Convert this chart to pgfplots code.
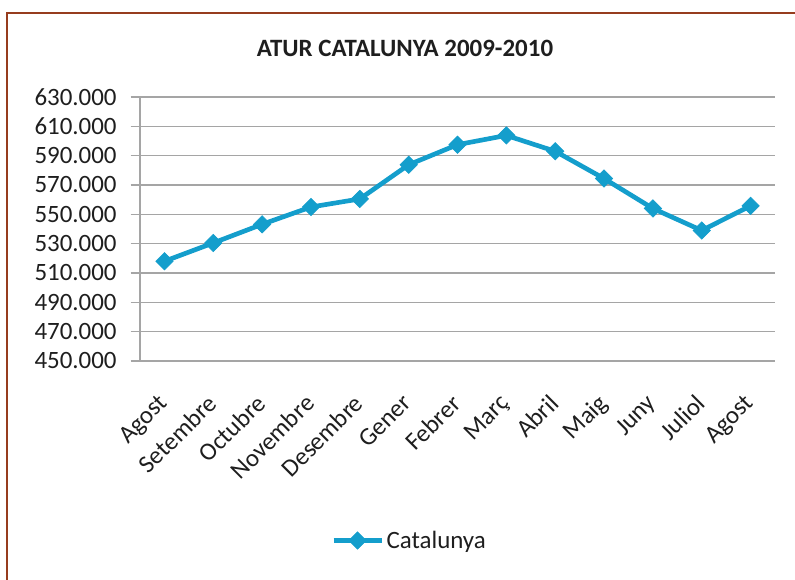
\documentclass[border=0pt]{standalone}
\usepackage{pgfplots}
\pgfplotsset{compat=1.18}
\usepackage{fontspec}
\setmainfont{Carlito}
\definecolor{linec}{RGB}{20,158,204}
\definecolor{gridc}{RGB}{165,165,165}
\definecolor{framec}{RGB}{150,60,30}
\definecolor{txt}{RGB}{30,30,30}
\begin{document}
\begin{tikzpicture}
\path[use as bounding box] (0,0) rectangle (596.25pt,434.25pt);
\draw[framec,line width=1.6pt] (5.25pt,-2pt) -- (5.25pt,424.5pt) -- (600pt,424.5pt);
\node[font=\fontsize{18.7}{21}\selectfont\bfseries,text=txt] at (303.75pt,398.25pt) {ATUR CATALUNYA 2009-2010};
\begin{axis}[
  at={(105pt,163.5pt)}, anchor=south west,
  scale only axis, width=476.25pt, height=198pt,
  xmin=-0.5, xmax=12.5, ymin=450000, ymax=630000,
  ytick={450000,470000,...,630000},
  xtick={0,...,12},
  xticklabels={Agost,Setembre,Octubre,Novembre,Desembre,Gener,Febrer,Març,Abril,Maig,Juny,Juliol,Agost},
  minor xtick={-0.5,0.5,...,12.5},
  axis x line*=bottom, axis y line*=left,
  axis line style={gridc,line width=1pt,-},
  tick align=outside,
  major tick length=7pt, minor tick length=6.5pt,
  xtick style={draw=none},
  minor x tick style={gridc,line width=1pt},
  ytick style={gridc,line width=1pt},
  ymajorgrids, grid style={gridc,line width=1pt},
  scaled y ticks=false,
  /pgf/number format/assume math mode=true,
  yticklabel style={/pgf/number format/.cd, fixed, 1000 sep={.}, /tikz/.cd, xshift=-7pt},
  ticklabel style={font=\fontsize{18.7}{21}\selectfont,text=txt},
  xticklabel style={anchor=north east, xshift=-5.5pt, yshift=-12pt, rotate=45},
  legend style={at={(0.425,-0.68)}, anchor=center, draw=none, fill=none,
    font=\fontsize{18.7}{21}\selectfont, text=txt},
  legend image code/.code={
    \draw[mark repeat=2,mark phase=2] plot coordinates {(0pt,0pt) (18pt,0pt) (36pt,0pt)};
  },
  clip=false,
]
\addplot[color=linec, line width=3.5pt, mark=square*, mark size=4.6pt,
  mark options={fill=linec, draw=linec, line width=0.5pt, rotate=45}] coordinates {
  (0,518000) (1,530500) (2,543200) (3,555000) (4,560500) (5,583800)
  (6,597500) (7,603800) (8,593000) (9,574400) (10,554000) (11,539000) (12,555800)
};
\addlegendentry{Catalunya}
\end{axis}
\end{tikzpicture}
\end{document}
